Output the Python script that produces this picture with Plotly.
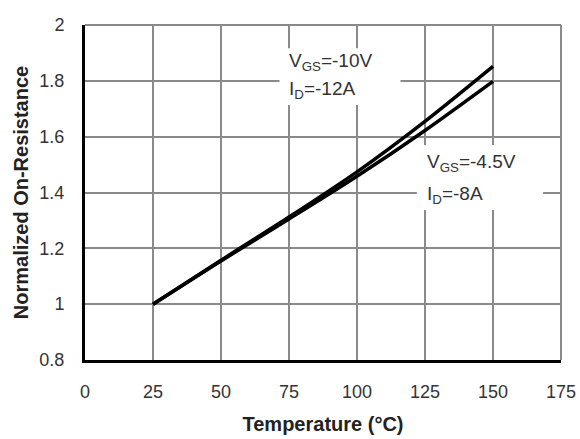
import plotly.graph_objects as go

# Junction temperature (°C) and normalized R_DS(on) for the two bias conditions
temperature = [25, 50, 75, 100, 125, 150]
rds_vgs_10v = [1.0, 1.157, 1.312, 1.474, 1.655, 1.852]
rds_vgs_4v5 = [1.0, 1.155, 1.305, 1.458, 1.622, 1.798]

x_ticks = [0, 25, 50, 75, 100, 125, 150, 175]
y_ticks = [0.8, 1, 1.2, 1.4, 1.6, 1.8, 2]
y_tick_text = ["0.8", "1", "1.2", "1.4", "1.6", "1.8", "2"]

# condition labels, one list entry per text line
label_10v = ["V<sub>GS</sub>=-10V", "I<sub>D</sub>=-12A"]
label_4v5 = ["V<sub>GS</sub>=-4.5V", "I<sub>D</sub>=-8A"]

FONT = "Liberation Sans, Arial, sans-serif"
GRID = "#8a8a8a"
TEXT = "#333333"

fig = go.Figure()
for name, ys in [("VGS=-10V", rds_vgs_10v), ("VGS=-4.5V", rds_vgs_4v5)]:
    fig.add_trace(go.Scatter(
        x=temperature, y=ys, mode="lines", name=name,
        line=dict(color="black", width=3.5, shape="spline", smoothing=0.8),
        showlegend=False,
    ))

# white boxes behind the condition labels (they interrupt the grid)
fig.add_shape(type="rect", x0=71.5, x1=116, y0=1.713, y1=1.917,
              fillcolor="white", line=dict(width=0), layer="between")
fig.add_shape(type="rect", x0=122, x1=168.4, y0=1.337, y1=1.570,
              fillcolor="white", line=dict(width=0), layer="between")

for text, xpos, ypos in [(label_10v[0], 74.3, 1.868), (label_10v[1], 74.3, 1.767),
                         (label_4v5[0], 125.0, 1.506), (label_4v5[1], 125.0, 1.391)]:
    fig.add_annotation(x=xpos, y=ypos, text=text, showarrow=False,
                       xanchor="left", yanchor="middle", align="left",
                       font=dict(family=FONT, size=19, color=TEXT))

# top and right frame in grid gray
fig.add_shape(type="line", xref="paper", yref="paper", x0=0, x1=1, y0=1, y1=1,
              line=dict(color=GRID, width=2), layer="between")
fig.add_shape(type="line", xref="paper", yref="paper", x0=1, x1=1, y0=0, y1=1,
              line=dict(color=GRID, width=2), layer="between")

fig.update_layout(
    width=580, height=439,
    margin=dict(l=85, r=19, t=25, b=79),
    paper_bgcolor="white", plot_bgcolor="white",
    font=dict(family=FONT, size=18, color=TEXT),
    xaxis=dict(
        range=[0, 175], tickvals=x_ticks, ticks="", ticklabelstandoff=13,
        automargin=False,
        tickfont=dict(family=FONT, size=18, color=TEXT),
        showgrid=True, gridcolor=GRID, gridwidth=2, zeroline=False,
        showline=True, linecolor="black", linewidth=3,
        title=dict(text="<b>Temperature (°C)</b>", standoff=17,
                   font=dict(family=FONT, size=20, color="#222222")),
    ),
    yaxis=dict(
        range=[0.8, 2], tickvals=y_ticks, ticktext=y_tick_text, ticks="",
        ticklabelstandoff=14, automargin=False,
        tickfont=dict(family=FONT, size=18, color=TEXT),
        showgrid=True, gridcolor=GRID, gridwidth=2, zeroline=False,
        showline=True, linecolor="black", linewidth=3,
        title=dict(text="<b>Normalized On-Resistance</b>", standoff=6,
                   font=dict(family=FONT, size=20, color="#222222")),
    ),
)

fig.write_html("out.html")
